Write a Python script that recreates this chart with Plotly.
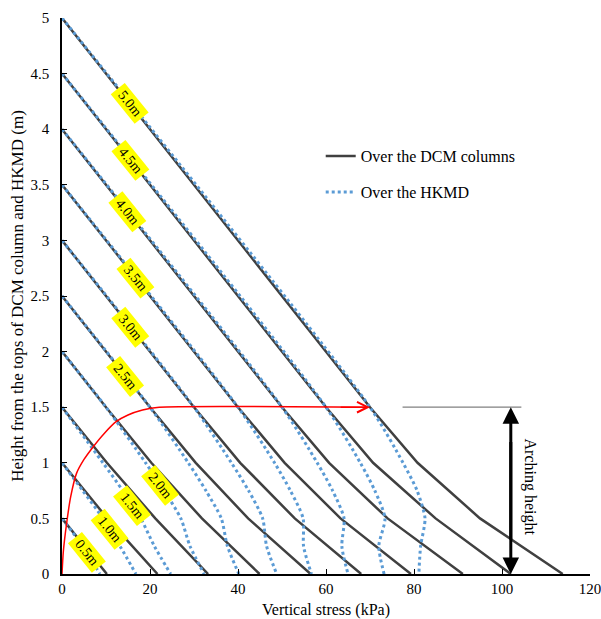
import numpy as np
import plotly.graph_objects as go

# ---------------- data ----------------
heights = [0.5, 1.0, 1.5, 2.0, 2.5, 3.0, 3.5, 4.0, 4.5, 5.0]
height_labels = ["0.5m", "1.0m", "1.5m", "2.0m", "2.5m", "3.0m", "3.5m", "4.0m", "4.5m", "5.0m"]

# Over the DCM columns: height z (m) and vertical stress (kPa)
dcm_z = [
    [0.5, 0.0],
    [1.0, 0.5, 0.0],
    [1.5, 1.0, 0.5, 0.0],
    [2.0, 1.5, 1.0, 0.5, 0.0],
    [2.5, 1.5, 1.0, 0.5, 0.0],
    [3.0, 1.5, 1.0, 0.5, 0.0],
    [3.5, 1.5, 1.0, 0.5, 0.0],
    [4.0, 1.5, 1.0, 0.5, 0.0],
    [4.5, 1.5, 1.0, 0.5, 0.0],
    [5.0, 1.5, 1.0, 0.5, 0.0],
]
dcm_stress = [
    [0, 10.2],
    [0, 10.3, 21.7],
    [0, 10.2, 21.2, 33.2],
    [0, 10.0, 20.3, 31.8, 44.9],
    [0, 20.0, 30.4, 42.3, 56.5],
    [0, 30.0, 40.5, 52.9, 68.0],
    [0, 40.0, 50.6, 63.3, 79.3],
    [0, 50.0, 60.7, 74.0, 91.1],
    [0, 60.0, 70.7, 84.9, 102.0],
    [0, 70.0, 80.8, 95.0, 113.8],
]

# Over the HKMD
hkmd_z = [
    [0.5, 0.25, 0.0],
    [1.0, 0.75, 0.5, 0.25, 0.0],
    [1.5, 1.0, 0.75, 0.5, 0.25, 0.0],
    [2.0, 1.5, 1.0, 0.75, 0.5, 0.25, 0.0],
    [2.5, 1.5, 1.0, 0.75, 0.5, 0.25, 0.0],
    [3.0, 1.5, 1.0, 0.75, 0.5, 0.25, 0.0],
    [3.5, 1.5, 1.0, 0.75, 0.5, 0.25, 0.0],
    [4.0, 1.5, 1.0, 0.75, 0.5, 0.25, 0.0],
    [4.5, 1.5, 1.0, 0.75, 0.5, 0.25, 0.0],
    [5.0, 1.5, 1.0, 0.75, 0.5, 0.25, 0.0],
]
hkmd_stress = [
    [0, 4.7, 8.6],
    [0, 4.7, 9.3, 13.2, 16.8],
    [0, 9.3, 13.8, 17.9, 21.0, 24.7],
    [0, 10.0, 19.0, 23.2, 27.0, 29.1, 32.3],
    [0, 20.0, 28.7, 32.7, 36.2, 37.6, 40.2],
    [0, 30.0, 38.5, 42.4, 45.6, 46.5, 48.8],
    [0, 40.0, 48.3, 51.9, 54.8, 54.9, 56.7],
    [0, 50.0, 58.0, 61.5, 64.1, 63.6, 65.0],
    [0, 60.0, 67.8, 71.1, 73.4, 72.0, 73.2],
    [0, 70.0, 77.5, 80.7, 82.5, 81.5, 81.1],
]

# heights at which the fill-height labels sit
label_z = [0.19, 0.40, 0.62, 0.80, 1.78, 2.22, 2.66, 3.26, 3.72, 4.23]

# arching-height curve
arch_stress = [0, 0.3, 1.05, 2.0, 3.3, 5.0, 7.1, 9.5, 12.3, 15.0, 18.3, 22.1, 69.0]
arch_z = [0, 0.2, 0.455, 0.7, 0.905, 1.03, 1.145, 1.26, 1.37, 1.43, 1.475, 1.5, 1.5]
arching_height = 1.5
arrow_stress = 102.0

x_ticks = [0, 20, 40, 60, 80, 100, 120]
y_ticks = [0, 0.5, 1, 1.5, 2, 2.5, 3, 3.5, 4, 4.5, 5]
y_ticktext = ["0", "0.5", "1", "1.5", "2", "2.5", "3", "3.5", "4", "4.5", "5"]

# ---------------- figure ----------------
FONT = "Liberation Serif, Times New Roman, serif"
DCM_COLOR = "#404040"
HKMD_COLOR = "#5B9BD5"

fig = go.Figure()

for i, h in enumerate(heights):
    fig.add_trace(go.Scatter(
        x=dcm_stress[i], y=dcm_z[i], mode="lines",
        line=dict(color=DCM_COLOR, width=2.5),
        name="Over the DCM columns", legendgroup="dcm",
        showlegend=(i == 0), hoverinfo="skip"))

for i, h in enumerate(heights):
    fig.add_trace(go.Scatter(
        x=hkmd_stress[i], y=hkmd_z[i], mode="lines",
        line=dict(color=HKMD_COLOR, width=3, dash="dot", shape="spline", smoothing=0.7),
        name="Over the HKMD", legendgroup="hkmd",
        showlegend=(i == 0), hoverinfo="skip"))

fig.add_trace(go.Scatter(
    x=arch_stress, y=arch_z, mode="lines",
    line=dict(color="red", width=1.5, shape="spline", smoothing=0.6),
    showlegend=False, hoverinfo="skip"))

annotations = []
# fill-height labels
for i, h in enumerate(heights):
    zz = np.array(hkmd_z[i])[::-1]
    xx = np.array(hkmd_stress[i])[::-1]
    lx = float(np.interp(label_z[i], zz, xx))
    annotations.append(dict(
        x=lx, y=label_z[i], xref="x", yref="y", text="\u00a0" + height_labels[i] + "\u00a0",
        showarrow=False, textangle=51, bgcolor="#FFFF00", borderpad=1,
        font=dict(family=FONT, size=14, color="black")))

# red arrow head at end of arching curve
annotations.append(dict(
    x=arch_stress[-1] + 1.0, y=arching_height, ax=arch_stress[-1] - 6, ay=arching_height,
    xref="x", yref="y", axref="x", ayref="y", text="", showarrow=True,
    arrowhead=5, arrowsize=1.4, arrowwidth=1.5, arrowcolor="red", standoff=0))

# arching-height double arrow (tails overlap so the shaft is continuous)
annotations.append(dict(
    x=arrow_stress, y=arching_height, ax=arrow_stress, ay=0.3,
    xref="x", yref="y", axref="x", ayref="y", text="", showarrow=True,
    arrowhead=2, arrowsize=1.1, arrowwidth=3, arrowcolor="black", standoff=0))
annotations.append(dict(
    x=arrow_stress, y=0.0, ax=arrow_stress, ay=1.2,
    xref="x", yref="y", axref="x", ayref="y", text="", showarrow=True,
    arrowhead=2, arrowsize=1.1, arrowwidth=3, arrowcolor="black", standoff=0))

annotations.append(dict(
    x=106.3, y=0.78, xref="x", yref="y", text="Arching height", showarrow=False,
    textangle=90, font=dict(family=FONT, size=16, color="black")))

fig.add_shape(type="line", xref="x", yref="y", x0=77.4, x1=104.4,
              y0=arching_height, y1=arching_height,
              line=dict(color="#808080", width=1.2))

fig.update_layout(
    width=601, height=619,
    margin=dict(l=62, r=11, t=18, b=45),
    paper_bgcolor="white", plot_bgcolor="white",
    font=dict(family=FONT, size=15, color="black"),
    annotations=annotations,
    showlegend=True,
    legend=dict(x=0.49, y=0.782, xanchor="left", yanchor="top",
                bgcolor="rgba(0,0,0,0)", font=dict(family=FONT, size=16),
                tracegroupgap=12),
    xaxis=dict(range=[0, 120], tickvals=x_ticks, ticks="inside", ticklen=5,
               tickcolor="black", showline=True, linecolor="black", linewidth=1.5,
               showgrid=False, zeroline=False, tickfont=dict(size=15),
               ticklabeloverflow="allow", automargin=False,
               title=dict(text="Vertical stress (kPa)", font=dict(size=16), standoff=12)),
    yaxis=dict(range=[0, 5], tickvals=y_ticks, ticktext=y_ticktext, ticks="inside",
               ticklen=5, tickcolor="black", showline=True, linecolor="black",
               linewidth=1.5, showgrid=False, zeroline=False, tickfont=dict(size=15),
               ticklabelstandoff=8, automargin=False,
               title=dict(text="Height from the tops of DCM column and HKMD (m)",
                          font=dict(size=17), standoff=3)),
)

fig.write_html("out.html")
